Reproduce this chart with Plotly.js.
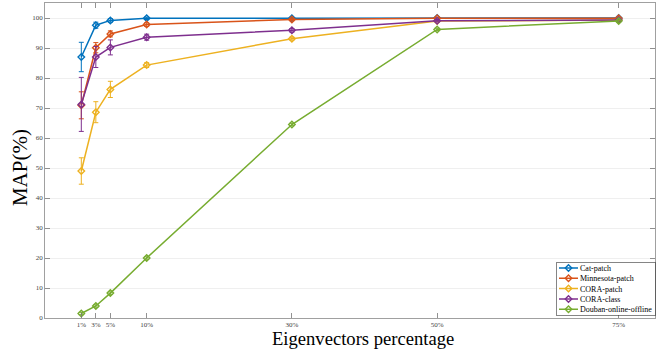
<!DOCTYPE html>
<html><head><meta charset="utf-8">
<script src="https://cdn.plot.ly/plotly-3.0.1.min.js"></script>
<style>html,body{margin:0;padding:0;background:#fff;}#chart{width:657px;height:351px;}</style>
</head><body><div id="chart"></div>
<script>
const xPercent = [1, 3, 5, 10, 30, 50, 75];
const tickLabels = ['1%', '3%', '5%', '10%', '30%', '50%', '75%'];
const seriesNames = ['Cat-patch', 'Minnesota-patch', 'CORA-patch', 'CORA-class', 'Douban-online-offline'];
const catPatch = [87.0, 97.6, 99.2, 99.9, 99.9, 100.0, 100.0];
const catPatchErr = [4.9, 1.0, 0.6, 0.4, 0.3, 0.2, 0.2];
const minnesotaPatch = [70.9, 90.1, 94.7, 97.8, 99.5, 99.9, 99.9];
const minnesotaPatchErr = [4.5, 1.7, 1.0, 0.6, 0.4, 0.3, 0.3];
const coraPatch = [49.0, 68.6, 76.2, 84.3, 93.1, 99.0, 99.3];
const coraPatchErr = [4.4, 3.5, 2.7, 0.8, 0.5, 0.3, 0.3];
const coraClass = [71.2, 87.0, 90.2, 93.6, 95.9, 99.1, 99.3];
const coraClassErr = [9.0, 3.5, 2.5, 1.0, 0.6, 0.4, 0.4];
const douban = [1.5, 4.0, 8.3, 20.0, 64.5, 96.2, 99.0];
const doubanErr = [0.4, 0.4, 0.4, 0.4, 0.4, 0.4, 0.4];

const colors = ['#0072BD', '#D95319', '#EDB120', '#7E2F8E', '#77AC30'];
const ys = [catPatch, minnesotaPatch, coraPatch, coraClass, douban];
const errs = [catPatchErr, minnesotaPatchErr, coraPatchErr, coraClassErr, doubanErr];

const traces = ys.map((y, i) => ({
  type: 'scatter', mode: 'lines+markers', name: seriesNames[i],
  x: xPercent, y: y,
  line: {color: colors[i], width: 1.5},
  marker: {symbol: 'diamond-open', size: 5, color: colors[i], line: {color: colors[i], width: 1.4}},
  error_y: {type: 'data', array: errs[i], visible: true, color: colors[i], thickness: 1, width: 2.5}
}));

const font = 'Times New Roman, Liberation Serif, serif';
const layout = {
  width: 657, height: 351,
  margin: {l: 45, r: 2, t: 3, b: 33},
  paper_bgcolor: '#fff', plot_bgcolor: '#fff',
  font: {family: font, color: '#262626'},
  showlegend: true,
  legend: {x: 0.998, xanchor: 'right', y: 0.01, yanchor: 'bottom',
    bgcolor: '#fff', bordercolor: '#333', borderwidth: 0.6,
    font: {family: font, size: 8, color: '#000'}, tracegroupgap: 0,
    itemwidth: 30},
  xaxis: {
    range: [-4, 80], tickvals: xPercent, ticktext: tickLabels,
    ticks: 'inside', ticklen: 5, tickcolor: '#777', tickwidth: 0.8,
    showline: true, linecolor: '#888', linewidth: 0.8, mirror: 'ticks',
    showgrid: false, zeroline: false,
    tickfont: {family: font, size: 7, color: '#444'}
  },
  yaxis: {
    range: [0, 105], tickvals: [0,10,20,30,40,50,60,70,80,90,100],
    ticks: 'inside', ticklen: 5, tickcolor: '#777', tickwidth: 0.8,
    showline: true, linecolor: '#888', linewidth: 0.8, mirror: 'ticks',
    showgrid: true, gridcolor: '#ebebeb', gridwidth: 0.8, zeroline: false,
    tickfont: {family: font, size: 7, color: '#444'}
  },
  annotations: [
    {text: 'Eigenvectors percentage', xref: 'paper', yref: 'paper', x: 0.5205, y: -0.066,
     xanchor: 'center', yanchor: 'middle', showarrow: false,
     font: {family: font, size: 18.6, color: '#000'}},
    {text: 'MAP(%)', xref: 'paper', yref: 'paper', x: -0.041, y: 0.479, textangle: -90,
     xanchor: 'center', yanchor: 'middle', showarrow: false,
     font: {family: font, size: 21, color: '#000'}}
  ]
};
const gd = document.getElementById('chart');
Plotly.newPlot(gd, traces, layout, {displayModeBar: false, staticPlot: true}).then(() => {
  try {
    const leg = gd.querySelector('g.legend');
    if (!leg) return;
    const items = leg.querySelectorAll('g.traces');
    let maxW = 0;
    items.forEach((it, i) => {
      it.setAttribute('transform', 'translate(0,' + (6 + i * 10.3) + ')');
      const txt = it.querySelector('text.legendtext');
      if (txt) {
        txt.setAttribute('x', 24);
        const w = txt.getBBox().width;
        if (w > maxW) maxW = w;
      }
      it.querySelectorAll('path.js-line').forEach(p => p.setAttribute('d', 'M3,0h19'));
      it.querySelectorAll('path.scatterpts').forEach(p => p.setAttribute('transform', 'translate(12.5,0)'));
      const tog = it.querySelector('rect.legendtoggle');
      if (tog) tog.setAttribute('width', 24 + maxW);
    });
    const W = Math.round(24 + maxW + 3);
    const H = 53;
    const bg = leg.querySelector('rect.bg');
    if (bg) { bg.setAttribute('width', W); bg.setAttribute('height', H); }
    const right = 655, bottom = 315;
    leg.setAttribute('transform', 'translate(' + (right - W) + ',' + (bottom - H) + ')');
  } catch (e) {}
});
</script></body></html>
